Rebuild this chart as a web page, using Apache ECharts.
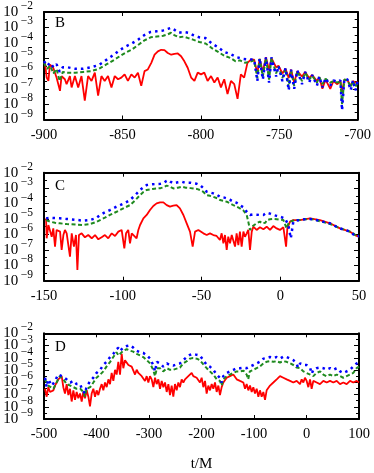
<!DOCTYPE html>
<html>
<head>
<meta charset="utf-8" />
<title>B C D</title>
<script src="https://cdn.jsdelivr.net/npm/echarts@6/dist/echarts.min.js"></script>
<style>
  html, body { margin: 0; padding: 0; background: #fff; }
  #main { width: 374px; height: 473px; }
</style>
</head>
<body>
<div id="main"></div>
<script>
// each point is [t/M, log10 of the amplitude]
var redB = [[-899.4,-5.3],[-898.3,-6.27],[-897.2,-6.49],[-896.2,-5.42],[-894.1,-5.63],[-892,-6.27],[-889.8,-7.13],[-888.8,-6.17],[-886.7,-6.38],[-885.6,-6.7],[-883.5,-6.17],[-882.4,-6.91],[-880.3,-6.17],[-878.2,-6.91],[-876.1,-6.17],[-874,-7.77],[-871.9,-6.17],[-869.7,-6.49],[-867.6,-5.95],[-865.5,-7.45],[-863.4,-6.17],[-861.3,-6.49],[-859.2,-6.17],[-857,-6.91],[-854.9,-6.17],[-852.8,-6.38],[-850.7,-6.27],[-848.6,-6.06],[-846.5,-6.49],[-844.3,-6.06],[-842.2,-6.27],[-840.1,-5.95],[-838,-6.81],[-835.9,-5.85],[-833.8,-5.74],[-831.6,-5.31],[-829.5,-4.78],[-827.4,-4.56],[-825.3,-4.46],[-823.2,-4.48],[-821.1,-4.67],[-818.9,-4.78],[-816.8,-4.72],[-814.7,-4.7],[-812.6,-4.88],[-810.5,-5.21],[-808.4,-5.63],[-806.2,-6.27],[-804.1,-6.49],[-802,-5.95],[-799.9,-6.06],[-797.8,-5.95],[-795.7,-6.49],[-793.5,-6.17],[-791.4,-6.59],[-789.3,-6.27],[-787.2,-6.91],[-785.1,-6.38],[-783,-7.34],[-780.8,-6.49],[-778.7,-6.7],[-776.6,-7.66],[-774.5,-6.06],[-772.4,-6.27],[-770.3,-5.31],[-768.1,-5.1],[-766,-5.1],[-764,-6.0],[-762.5,-5.05],[-760.5,-5.9],[-758.5,-4.95],[-756.5,-5.8],[-755,-5.0],[-752,-5.6],[-750.5,-5.5],[-748,-6.0],[-746,-5.7],[-744,-6.3],[-742.5,-5.75],[-740.5,-6.6],[-738.5,-5.85],[-735.5,-6.2],[-733.5,-5.9],[-731,-6.3],[-729,-6.1],[-726,-6.5],[-724.5,-6.25],[-722.5,-7.0],[-720.5,-6.4],[-717.5,-7.0],[-715.5,-6.5],[-713,-6.7],[-711,-6.5],[-710,-7.2],[-708.5,-6.4],[-706.5,-6.45],[-704.5,-6.8],[-703,-6.5],[-701.5,-6.6],[-700,-6.55]];
var greenB = [[-900,-5.3],[-898,-5.7],[-896,-5.5],[-894,-6.0],[-892,-5.7],[-890,-6.5],[-888,-5.9],[-885,-5.95],[-880,-5.95],[-875,-5.9],[-870,-5.85],[-865,-5.7],[-860,-5.4],[-855,-5.1],[-852,-4.9],[-848,-4.65],[-844,-4.45],[-840,-4.15],[-836,-3.85],[-832,-3.65],[-828,-3.6],[-824,-3.55],[-821,-3.45],[-819,-3.35],[-817,-3.5],[-814,-3.65],[-811,-3.6],[-808,-3.7],[-805,-3.8],[-801,-3.95],[-797,-4.05],[-793,-4.35],[-789,-4.6],[-785,-4.85],[-781,-5.0],[-778,-5.2],[-775,-5.15],[-772,-5.3],[-769,-5.25],[-766,-5.15],[-764,-6.3],[-762.5,-5.05],[-760.5,-6.2],[-758.5,-5.0],[-756.5,-6.4],[-755,-5.0],[-752,-6.0],[-750.5,-5.55],[-748,-6.3],[-746,-5.7],[-744,-6.9],[-742.5,-5.8],[-740.5,-6.8],[-738.5,-5.85],[-735.5,-6.5],[-733.5,-5.95],[-731,-6.4],[-729,-6.15],[-726,-6.6],[-724.5,-6.25],[-722.5,-6.7],[-720.5,-6.35],[-717.5,-6.6],[-715.5,-6.5],[-713,-6.6],[-711,-6.5],[-710,-8.0],[-708.5,-6.4],[-706.5,-6.45],[-704.5,-6.9],[-703,-6.5],[-701.5,-6.9],[-700,-6.55]];
var blueB = [[-900,-5.2],[-898,-5.5],[-896,-5.3],[-894,-5.6],[-892,-5.4],[-890,-5.9],[-888,-5.6],[-885,-5.6],[-880,-5.7],[-875,-5.7],[-870,-5.6],[-865,-5.45],[-860,-5.1],[-855,-4.75],[-852,-4.5],[-848,-4.25],[-844,-4.05],[-840,-3.8],[-836,-3.5],[-832,-3.3],[-828,-3.25],[-824,-3.2],[-821,-3.1],[-819,-3.03],[-817,-3.15],[-814,-3.35],[-811,-3.3],[-808,-3.35],[-805,-3.5],[-801,-3.65],[-797,-3.7],[-793,-4.05],[-789,-4.3],[-785,-4.6],[-781,-4.75],[-777,-4.95],[-773,-5.05],[-769,-5.1],[-766,-5.1],[-764,-6.5],[-762.5,-5.0],[-760.5,-6.4],[-758.5,-4.95],[-756.5,-6.6],[-755,-4.95],[-752,-6.2],[-750.5,-5.5],[-748,-6.5],[-746,-5.65],[-744,-7.1],[-742.5,-5.75],[-740.5,-7.0],[-738.5,-5.8],[-735.5,-6.7],[-733.5,-5.9],[-731,-6.6],[-729,-6.1],[-726,-6.8],[-724.5,-6.2],[-722.5,-6.9],[-720.5,-6.3],[-717.5,-6.8],[-715.5,-6.45],[-713,-6.55],[-711,-6.45],[-710,-8.4],[-708.5,-6.35],[-706.5,-6.4],[-704.5,-7.1],[-703,-6.45],[-701.5,-7.1],[-700,-6.5]];

var redC = [[-148.7,-4.96],[-148.3,-6.25],[-147.2,-5.39],[-146.2,-5.5],[-145.1,-6.15],[-144.1,-5.61],[-143,-6.79],[-142,-5.71],[-139.8,-5.82],[-138.8,-7.01],[-137.7,-6.04],[-136.7,-5.71],[-135.6,-5.93],[-134.6,-6.0],[-133.5,-7.44],[-132.4,-5.93],[-131,-6.79],[-129.7,-6.04],[-128.8,-8.31],[-127.8,-6.04],[-126.1,-5.93],[-124,-6.19],[-121.9,-6.04],[-119.7,-6.25],[-117.6,-6.04],[-115.5,-6.32],[-113.4,-6.19],[-111.3,-6.04],[-109.2,-6.25],[-107,-5.93],[-104.9,-6.1],[-102.8,-5.82],[-100.7,-5.71],[-99,-6.9],[-97.9,-5.93],[-96.5,-5.71],[-95.4,-6.58],[-94.3,-5.93],[-93.3,-5.82],[-91.2,-6.25],[-90.1,-5.71],[-89,-5.39],[-86.9,-4.96],[-84.8,-4.74],[-82.7,-4.42],[-80.6,-4.16],[-78.5,-3.99],[-76.3,-3.92],[-74.2,-3.92],[-72.1,-4.1],[-70,-4.2],[-67.9,-4.14],[-65.8,-4.1],[-63.7,-4.31],[-61.5,-4.74],[-59.4,-5.28],[-57.3,-5.82],[-55.6,-6.79],[-54.1,-5.82],[-52,-5.71],[-51,-5.71],[-48.8,-5.93],[-46.7,-6.04],[-44.6,-5.93],[-42.5,-6.04],[-40.4,-6.1],[-38.3,-6.36],[-37.2,-5.93],[-36.1,-6.58],[-35.1,-6.04],[-34,-7.01],[-33,-6.15],[-31.9,-6.58],[-30.8,-6.04],[-29.8,-5.93],[-28.7,-6.79],[-27.7,-5.93],[-26.6,-6.69],[-25.6,-5.82],[-24.5,-6.79],[-23.4,-5.82],[-22.4,-6.15],[-21.3,-5.93],[-20.3,-5.71],[-19.2,-7.01],[-18.1,-5.82],[-17.1,-5.5],[-15,-5.71],[-12.9,-5.54],[-10.7,-5.67],[-8.6,-5.5],[-6.5,-5.71],[-4.4,-5.46],[-2.3,-5.61],[-0.2,-5.71],[2,-5.54],[3.7,-6.79],[4.5,-5.61],[6.2,-5.17],[8.3,-5.07],[12.5,-5.07],[18.9,-4.96],[25.2,-5.07],[31.6,-5.28],[37.9,-5.61],[44.3,-5.82],[48.5,-6.1],[50,-6.15]];
var greenC = [[-148.7,-5.07],[-146.2,-5.17],[-143,-5.25],[-140,-5.28],[-135.6,-5.33],[-130,-5.36],[-125,-5.39],[-120.8,-5.33],[-117,-5.2],[-114.4,-5.07],[-111,-4.9],[-108.1,-4.74],[-104.9,-4.58],[-101.7,-4.42],[-98.5,-4.25],[-95.4,-4.1],[-92,-3.78],[-89,-3.45],[-86.9,-3.25],[-84.8,-3.12],[-81,-3.05],[-78.5,-3.02],[-76,-3.0],[-74.2,-2.95],[-72.1,-2.84],[-70,-2.9],[-67.9,-3.02],[-65,-2.97],[-62.6,-2.91],[-60,-2.97],[-57,-3.0],[-55.2,-3.02],[-53,-3.05],[-51,-3.12],[-48.8,-3.25],[-46.7,-3.45],[-44.6,-3.5],[-42.5,-3.56],[-40,-3.66],[-38.3,-3.77],[-36,-3.82],[-34,-3.88],[-31.9,-3.99],[-29.8,-4.1],[-27.7,-4.2],[-25.6,-4.31],[-23.4,-4.45],[-21.3,-4.74],[-20.3,-5.17],[-19.2,-5.71],[-18.1,-5.5],[-17.1,-5.39],[-15,-5.28],[-12.9,-5.17],[-11.5,-5.28],[-10.7,-5.39],[-9.5,-5.25],[-8.6,-5.07],[-6.5,-5.02],[-4.4,-5.0],[-2.3,-5.02],[-0.2,-5.05],[2,-5.07],[4,-5.61],[5.5,-5.2],[8.3,-5.1],[10.4,-5.07],[12.5,-5.07],[15.5,-5.02],[18.9,-5.0],[22,-5.05],[25.2,-5.15],[28,-5.22],[31.6,-5.33],[34.7,-5.45],[37.9,-5.61],[41,-5.7],[44.3,-5.82],[46.5,-5.95],[48.5,-6.12],[50,-6.1]];
var blueC = [[-148.7,-4.96],[-146,-4.92],[-140,-4.96],[-135.6,-5.0],[-130,-5.05],[-125,-5.11],[-120.8,-5.07],[-117,-4.95],[-114.4,-4.74],[-111,-4.55],[-108.1,-4.42],[-104.9,-4.25],[-101.7,-4.1],[-98.5,-3.95],[-95.4,-3.77],[-92,-3.45],[-89,-3.12],[-86.9,-2.95],[-84.8,-2.8],[-81,-2.75],[-78.5,-2.73],[-76,-2.72],[-74.2,-2.69],[-72.5,-2.55],[-71.1,-2.48],[-69.5,-2.6],[-67.9,-2.69],[-65,-2.62],[-62.6,-2.58],[-60.5,-2.65],[-59.4,-2.69],[-57,-2.65],[-55.2,-2.69],[-53,-2.72],[-51,-2.8],[-48.8,-3.0],[-46.7,-3.23],[-44.6,-3.28],[-42.5,-3.34],[-40,-3.45],[-38.3,-3.56],[-36,-3.6],[-34,-3.66],[-32,-3.75],[-29.8,-3.88],[-27.7,-3.95],[-25.6,-4.1],[-23.4,-4.25],[-21.3,-4.53],[-19.2,-4.74],[-17.1,-4.7],[-15,-4.72],[-12.9,-4.74],[-10.7,-4.74],[-8.6,-4.59],[-6.5,-4.65],[-4.4,-4.74],[-2.3,-4.8],[-0.2,-4.85],[3,-4.96],[5.1,-5.39],[6.7,-6.25],[8.3,-5.17],[10.4,-5.1],[12.5,-5.07],[15.5,-5.02],[18.9,-5.0],[22,-5.05],[25.2,-5.11],[28,-5.2],[31.6,-5.28],[34.7,-5.45],[37.9,-5.61],[41,-5.7],[44.3,-5.82],[46.5,-6.0],[48.5,-6.15],[50,-6.1]];

var redD = [[-498.1,-6.53],[-494.9,-7.18],[-491.7,-6.4],[-488.6,-6.79],[-485.4,-6.79],[-482.2,-6.66],[-479,-6.27],[-475.9,-6.02],[-472.7,-5.76],[-469.5,-5.89],[-466.3,-5.5],[-463.2,-6.4],[-460,-6.92],[-456.8,-6.15],[-453.6,-7.05],[-450.5,-6.53],[-447.3,-7.57],[-444.1,-6.66],[-440.9,-7.44],[-437.8,-6.79],[-434.6,-7.31],[-431.4,-6.92],[-428.2,-7.57],[-425.1,-6.79],[-421.9,-7.31],[-418.7,-6.66],[-415.5,-7.18],[-412.4,-7.96],[-409.2,-6.92],[-406,-6.53],[-402.8,-7.18],[-399.7,-6.66],[-396.5,-7.05],[-393.3,-6.53],[-390.1,-6.15],[-387,-6.66],[-383.8,-6.02],[-380.6,-6.4],[-377.4,-5.76],[-374.3,-6.15],[-371.1,-5.24],[-367.9,-5.89],[-364.7,-4.98],[-361.6,-5.37],[-358.4,-4.33],[-355.2,-5.37],[-352,-3.68],[-348.9,-4.85],[-345.7,-4.2],[-342.5,-4.33],[-339.3,-4.59],[-336.2,-4.46],[-333,-4.72],[-329.8,-4.59],[-326.6,-5.37],[-323.5,-4.98],[-320.3,-5.24],[-317.1,-5.11],[-313.9,-5.5],[-310.8,-5.37],[-307.6,-5.89],[-304.4,-5.5],[-301.2,-6.02],[-298.1,-5.5],[-294.9,-5.76],[-291.7,-6.4],[-288.5,-5.63],[-285.4,-6.15],[-282.2,-5.76],[-279,-6.53],[-275.8,-5.89],[-272.7,-6.4],[-269.5,-6.02],[-266.3,-6.79],[-263.1,-6.15],[-260,-7.05],[-256.8,-6.27],[-253.7,-7.18],[-250.5,-6.15],[-247.3,-6.66],[-244.1,-6.02],[-241,-6.4],[-237.8,-5.76],[-234.6,-6.02],[-231.4,-5.76],[-228.3,-5.89],[-225.1,-5.5],[-221.9,-5.63],[-218.7,-5.24],[-215.6,-5.5],[-212.4,-5.37],[-209.2,-5.63],[-206,-5.5],[-202.9,-6.02],[-199.7,-5.63],[-196.5,-6.4],[-193.3,-5.89],[-190.2,-6.92],[-187,-6.27],[-183.8,-6.66],[-180.6,-6.15],[-177.5,-6.53],[-174.3,-6.02],[-171.1,-6.79],[-167.9,-6.27],[-164.8,-7.05],[-161.6,-6.4],[-158.4,-6.02],[-152,-5.63],[-145.7,-5.5],[-139.4,-5.37],[-136.2,-5.5],[-133,-5.76],[-126.7,-5.89],[-120.3,-6.02],[-117.1,-6.53],[-114,-6.15],[-110.8,-6.66],[-107.6,-6.27],[-104.4,-6.79],[-101.3,-6.4],[-98.1,-6.92],[-94.9,-6.53],[-91.7,-7.18],[-88.6,-6.66],[-85.4,-7.18],[-82.2,-6.79],[-79,-7.44],[-75.9,-6.66],[-69.5,-6.27],[-63.2,-6.02],[-56.8,-5.76],[-50.5,-5.5],[-47.3,-5.37],[-44.1,-5.63],[-37.8,-5.76],[-31.4,-5.89],[-25.1,-6.02],[-18.7,-5.89],[-12.4,-6.15],[-9.2,-5.76],[-6,-6.02],[-2.9,-5.63],[0.3,-5.89],[3.5,-6.4],[6.7,-5.76],[9.8,-6.53],[13,-5.89],[19.4,-6.02],[25.7,-6.15],[32.1,-5.89],[38.4,-6.02],[44.8,-5.89],[51.1,-6.02],[57.5,-5.89],[63.8,-6.15],[70.2,-6.02],[76.5,-6.15],[82.9,-5.89],[89.2,-6.02],[95.6,-5.89],[100,-6.02]];
var greenD = [[-498,-5.76],[-492,-6.27],[-489,-6.27],[-482,-6.53],[-476,-6.02],[-470,-5.5],[-463,-5.76],[-457,-6.15],[-450,-6.27],[-444,-6.4],[-438,-6.53],[-431,-6.53],[-425,-6.79],[-422,-7.18],[-419,-6.53],[-412,-6.4],[-406,-6.02],[-400,-5.63],[-393,-5.37],[-387,-5.11],[-381,-4.72],[-374,-4.33],[-368,-3.94],[-362,-3.55],[-358,-3.81],[-355,-3.94],[-349,-3.42],[-342.5,-3.3],[-336,-3.42],[-330,-3.5],[-323.5,-3.68],[-317,-3.81],[-311,-3.94],[-304,-4.2],[-298,-4.46],[-292,-4.98],[-288.5,-5.5],[-285,-4.85],[-279,-4.85],[-273,-5.11],[-266,-4.85],[-260,-4.98],[-254,-4.98],[-241,-4.8],[-235,-4.46],[-228,-4.28],[-222,-4.07],[-216,-4.02],[-209,-4.07],[-203,-4.2],[-196.5,-4.54],[-190,-4.85],[-184,-5.11],[-177.5,-5.37],[-171,-5.76],[-165,-5.89],[-161.6,-6.27],[-158.4,-5.76],[-152,-5.5],[-146,-5.37],[-139,-5.24],[-133,-5.11],[-127,-5.11],[-120,-5.06],[-114,-5.37],[-111,-5.76],[-108,-5.11],[-101,-4.98],[-95,-4.85],[-89,-4.72],[-82,-4.46],[-76,-4.33],[-69.5,-4.28],[-63,-4.33],[-57,-4.28],[-50.5,-4.38],[-44,-4.28],[-38,-4.33],[-31,-4.46],[-25,-4.59],[-19,-4.8],[-12,-4.85],[-6,-5.11],[0,-5.24],[7,-5.37],[13,-5.5],[19,-5.24],[26,-5.11],[32,-5.37],[38,-5.5],[45,-5.37],[51,-5.5],[57.5,-5.37],[64,-5.5],[70,-5.63],[76.5,-5.5],[83,-5.37],[89,-5.24],[95.5,-4.85],[100,-4.72]];
var blueD = [[-498,-5.63],[-495,-6.4],[-492,-5.76],[-489,-5.89],[-485,-6.27],[-482,-6.15],[-479,-5.89],[-476,-5.76],[-473,-5.37],[-470,-5.24],[-466,-5.5],[-463,-5.37],[-457,-5.76],[-450,-6.02],[-444,-5.89],[-438,-6.15],[-431,-6.15],[-428,-6.53],[-425,-6.4],[-422,-6.92],[-419,-6.4],[-412,-5.89],[-406,-5.63],[-400,-5.24],[-393,-4.98],[-387,-4.59],[-381,-4.33],[-374,-3.94],[-368,-3.68],[-362,-3.3],[-358,-3.17],[-355,-3.42],[-349,-3.17],[-342.5,-3.04],[-336,-2.98],[-333,-2.91],[-330,-3.17],[-323.5,-3.42],[-317,-3.55],[-311,-3.6],[-304,-3.81],[-298,-4.07],[-292,-4.59],[-288.5,-5.11],[-285,-4.33],[-279,-4.46],[-273,-4.72],[-266,-4.46],[-260,-4.59],[-254,-4.64],[-247,-4.54],[-241,-4.46],[-235,-4.2],[-228,-3.94],[-222,-3.76],[-216,-3.68],[-209,-3.76],[-203,-3.81],[-196.5,-4.2],[-190,-4.59],[-184,-4.72],[-177.5,-4.98],[-171,-5.37],[-165,-5.63],[-161.6,-6.02],[-158.4,-5.5],[-152,-5.24],[-146,-5.11],[-139,-4.98],[-133,-4.85],[-127,-4.85],[-120,-4.8],[-114,-4.85],[-108,-4.72],[-101,-4.59],[-95,-4.46],[-89,-4.33],[-82,-4.07],[-76,-4.02],[-69.5,-3.94],[-63,-4.02],[-57,-3.94],[-50.5,-4.07],[-44,-3.9],[-38,-3.94],[-31,-4.07],[-25,-4.2],[-19,-4.46],[-16,-4.8],[-12,-4.46],[-6,-4.59],[0,-4.59],[7,-4.85],[10,-5.3],[13,-4.98],[19,-4.85],[26,-4.8],[32,-4.85],[38,-4.98],[45,-4.85],[51,-4.98],[57.5,-4.85],[64,-5.11],[70,-5.24],[76.5,-5.11],[83,-4.98],[89,-4.72],[95.5,-4.46],[100,-4.33]];

// axis ranges and panel letters
var xRanges = [[-900, -700, 50], [-150, 50, 50], [-500, 100, 100]];
var panelNames = ['B', 'C', 'D'];
var yMin = -9, yMax = -2;

var chart = echarts.init(document.getElementById('main'), null, {renderer: 'canvas'});

var FONT = '"Liberation Serif", "DejaVu Serif", serif';
var grids = [
    {left: 44, right: 15, top: 10, height: 109.5},
    {left: 44, right: 15, top: 172.7, height: 108},
    {left: 44, right: 15, top: 333.3, height: 90}
];

// 10^-n labels; the even and odd powers sit on two stacked left axes so
// that none of them gets dropped for crowding
function powLabel(parity) {
    return function (v) {
        if (Math.abs(v) % 2 !== parity) return '';
        return '{b|10}{e|\u2212' + (-v) + '}';
    };
}
var powRich = {
    b: {color: '#000', fontFamily: FONT, fontSize: 15, verticalAlign: 'middle', lineHeight: 8},
    e: {color: '#000', fontFamily: FONT, fontSize: 11.5, verticalAlign: 'bottom', lineHeight: 8, padding: [0, 0, 4, 2.5]}
};

var xAxes = [], yAxes = [], series = [], letters = [];
grids.forEach(function (g, i) {
    var r = xRanges[i];
    var base = {
        type: 'value', gridIndex: i, min: r[0], max: r[1], interval: r[2],
        axisLine: {onZero: false, lineStyle: {color: '#000', width: 2}},
        axisTick: {inside: true, length: 4, lineStyle: {color: '#000', width: 1}},
        splitLine: {show: false}
    };
    xAxes.push(Object.assign({}, base, {
        position: 'bottom',
        axisLabel: {color: '#000', fontFamily: FONT, fontSize: 14.5, margin: 8, showMinLabel: true, showMaxLabel: true},
        name: i === 2 ? 't/M' : '', nameLocation: 'middle', nameGap: 38,
        nameTextStyle: {color: '#000', fontFamily: FONT, fontSize: 15}
    }));
    xAxes.push(Object.assign({}, base, {position: 'top', axisLabel: {show: false}}));

    var ybase = {
        type: 'value', gridIndex: i, min: yMin, max: yMax, interval: 1,
        axisLine: {onZero: false, lineStyle: {color: '#000', width: 2}},
        axisTick: {inside: true, length: 5, lineStyle: {color: '#000', width: 1}},
        minorTick: {show: true, splitNumber: 2, length: 3, lineStyle: {color: '#000', width: 1}},
        splitLine: {show: false}
    };
    var lbl = {margin: 11, showMinLabel: true, showMaxLabel: true, height: 8, lineHeight: 8, rich: powRich};
    yAxes.push(Object.assign({}, ybase, {
        position: 'left',
        axisLabel: Object.assign({formatter: powLabel(0)}, lbl)
    }));
    yAxes.push(Object.assign({}, ybase, {
        position: 'left',
        axisLine: {show: false, onZero: false}, axisTick: {show: false}, minorTick: {show: false},
        axisLabel: Object.assign({formatter: powLabel(1)}, lbl)
    }));
    yAxes.push(Object.assign({}, ybase, {position: 'right', axisLabel: {show: false}}));

    letters.push({
        type: 'text', left: 55, top: g.top + 6,
        style: {text: panelNames[i], fill: '#000', font: '15px ' + FONT}
    });
});

function addSeries(data, idx, color, type, width) {
    series.push({
        type: 'line', xAxisIndex: idx * 2, yAxisIndex: idx * 3, data: data,
        showSymbol: false, symbol: 'none', clip: true,
        lineStyle: {color: color, width: width, type: type}
    });
}
addSeries(redB, 0, '#ff0000', 'solid', 1.8);
addSeries(greenB, 0, '#1f8a1f', [4, 2.5], 2);
addSeries(blueB, 0, '#0000ff', [2.5, 4], 2.5);
addSeries(redC, 1, '#ff0000', 'solid', 1.8);
addSeries(greenC, 1, '#1f8a1f', [4, 2.5], 2);
addSeries(blueC, 1, '#0000ff', [2.5, 4], 2.5);
addSeries(redD, 2, '#ff0000', 'solid', 1.8);
addSeries(greenD, 2, '#1f8a1f', [4, 2.5], 2);
addSeries(blueD, 2, '#0000ff', [2.5, 4], 2.5);

chart.setOption({
    animation: false,
    backgroundColor: '#fff',
    grid: grids,
    xAxis: xAxes,
    yAxis: yAxes,
    series: series,
    graphic: letters
});
</script>
</body>
</html>
